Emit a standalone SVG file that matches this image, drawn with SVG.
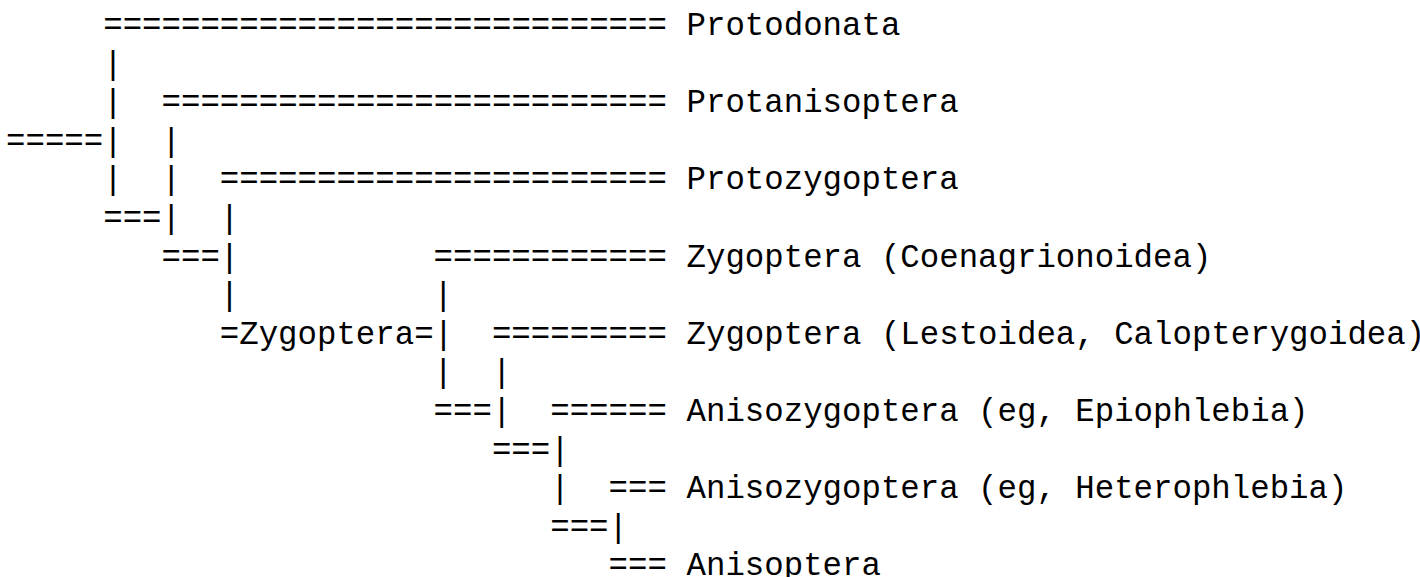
<svg xmlns="http://www.w3.org/2000/svg" width="1420" height="577" viewBox="0 0 1420 577">
<style>
text{font-family:"Liberation Mono","Courier New",monospace;font-size:32.4px;fill:#000;white-space:pre}
</style>
<rect width="1420" height="577" fill="#fff"/>
<g id="connectors">
<text x="103.2" y="35">=============================</text>
<text x="103.2" y="73.6">|</text>
<text x="103.2" y="112.2">|</text>
<text x="161.5" y="112.2">==========================</text>
<text x="6" y="150.8">=====|</text>
<text x="161.5" y="150.8">|</text>
<text x="103.2" y="189.4">|</text>
<text x="161.5" y="189.4">|</text>
<text x="219.8" y="189.4">=======================</text>
<text x="103.2" y="228">===|</text>
<text x="219.8" y="228">|</text>
<text x="161.5" y="266.6">===|</text>
<text x="433.6" y="266.6">============</text>
<text x="219.8" y="305.2">|</text>
<text x="433.6" y="305.2">|</text>
<text x="219.8" y="343.8">=</text>
<text x="414.2" y="343.8">=|</text>
<text x="491.9" y="343.8">=========</text>
<text x="433.6" y="382.4">|</text>
<text x="491.9" y="382.4">|</text>
<text x="433.6" y="421">===|</text>
<text x="550.2" y="421">======</text>
<text x="491.9" y="459.6">===|</text>
<text x="550.2" y="498.2">|</text>
<text x="608.5" y="498.2">===</text>
<text x="550.2" y="536.8">===|</text>
<text x="608.5" y="575.4">===</text>
</g>
<g id="node-zygoptera-stem"><text x="239.2" y="343.8">Zygoptera</text></g>
<g id="node-protodonata"><text x="686.5" y="35">Protodonata</text></g>
<g id="node-protanisoptera"><text x="686.5" y="112.2">Protanisoptera</text></g>
<g id="node-protozygoptera"><text x="686.5" y="189.4">Protozygoptera</text></g>
<g id="node-coenagrionoidea"><text x="686.5" y="266.6">Zygoptera (Coenagrionoidea)</text></g>
<g id="node-lestoidea"><text x="686.5" y="343.8">Zygoptera (Lestoidea, Calopterygoidea)</text></g>
<g id="node-epiophlebia"><text x="686.5" y="421">Anisozygoptera (eg, Epiophlebia)</text></g>
<g id="node-heterophlebia"><text x="686.5" y="498.2">Anisozygoptera (eg, Heterophlebia)</text></g>
<g id="node-anisoptera"><text x="686.5" y="575.4">Anisoptera</text></g>
</svg>
